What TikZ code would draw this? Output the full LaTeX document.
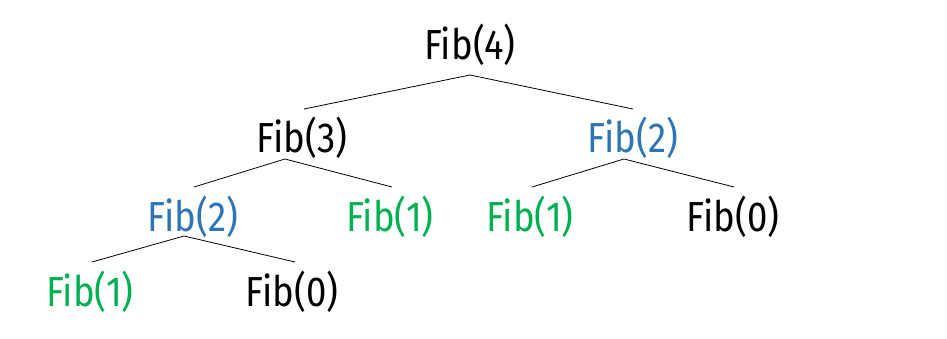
\documentclass[tikz,border=0pt]{standalone}
\usepackage{fontspec}
\setmainfont[FakeStretch=0.87]{Fira Sans}
\usetikzlibrary{calc}
\definecolor{fibblue}{RGB}{46,117,182}
\definecolor{fibgreen}{RGB}{0,176,80}
\tikzset{
  fib/.style={anchor=base, inner sep=0pt, font=\fontsize{42}{42}\selectfont},
  fibline/.style={draw=black, line width=0.8pt}
}
\begin{document}
\begin{tikzpicture}[x=1pt,y=-1pt]
\useasboundingbox (0,0) rectangle (947,339);
\node[fib] (f4) at (470,60) {Fib(4)};
\node[fib] (f3) at (302,153) {Fib(3)};
\node[fib, text=fibblue] (f2r) at (633,153) {Fib(2)};
\node[fib, text=fibblue] (f2l) at (193,231) {Fib(2)};
\node[fib, text=fibgreen] (f1m) at (390,231) {Fib(1)};
\node[fib, text=fibgreen] (f1r) at (530,231) {Fib(1)};
\node[fib] (f0r) at (733,231) {Fib(0)};
\node[fib, text=fibgreen] (f1b) at (90,306) {Fib(1)};
\node[fib] (f0b) at (292,306) {Fib(0)};
\draw[fibline] ($(f3.base)+(2,-44)$) -- ($(f4.base)+(0,15)$) -- ($(f2r.base)+(0,-44)$);
\draw[fibline] ($(f2l.base)+(1,-44)$) -- ($(f3.base)+(-17,6)$) -- ($(f1m.base)+(2,-44)$);
\draw[fibline] ($(f1r.base)+(2,-44)$) -- ($(f2r.base)+(-9,6)$) -- ($(f0r.base)+(1,-44)$);
\draw[fibline] ($(f1b.base)+(2,-44)$) -- ($(f2l.base)+(-9,5)$) -- ($(f0b.base)+(3,-44)$);
\end{tikzpicture}
\end{document}
